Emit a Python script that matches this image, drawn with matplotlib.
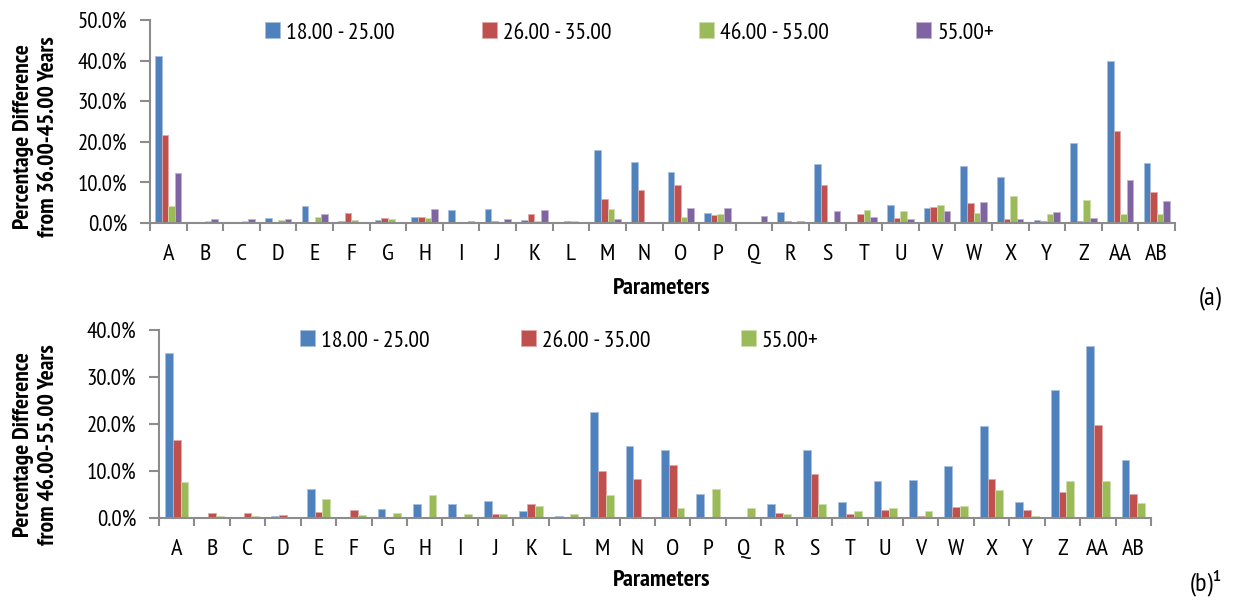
import numpy as np
import matplotlib
matplotlib.use("Agg")
import matplotlib.pyplot as plt
from matplotlib.ticker import FuncFormatter, FixedLocator

plt.rcParams['font.family'] = ['PT Sans Narrow', 'DejaVu Sans']
plt.rcParams['font.stretch'] = 'condensed'

params = ["A", "B", "C", "D", "E", "F", "G", "H", "I", "J", "K", "L", "M", "N",
          "O", "P", "Q", "R", "S", "T", "U", "V", "W", "X", "Y", "Z", "AA", "AB"]

# (a) difference from 36.00-45.00 years
a_18_25 = [41.1, 0.25, 0.25, 1.15, 4.2, 0.5, 0.7, 1.5, 3.1, 3.4, 0.7, 0.0, 17.9, 15.1,
           12.5, 2.5, 0.2, 2.6, 14.5, 0.2, 4.4, 3.6, 14.0, 11.3, 0.7, 19.6, 40.0, 14.9]
a_26_35 = [21.6, 0.25, 0.25, 0.0, 0.2, 2.5, 1.2, 1.4, 0.0, 0.5, 2.2, 0.5, 5.8, 8.1,
           9.4, 2.0, 0.0, 0.5, 9.4, 2.3, 1.3, 3.9, 4.9, 0.9, 0.6, 0.5, 22.7, 7.6]
a_46_55 = [4.3, 0.5, 0.5, 0.7, 1.5, 0.7, 1.0, 1.2, 0.2, 0.0, 0.5, 0.5, 3.4, 0.0,
           1.5, 2.2, 0.0, 0.2, 0.0, 3.1, 3.0, 4.4, 2.5, 6.6, 2.3, 5.6, 2.3, 2.3]
a_55 = [12.2, 1.0, 1.0, 1.0, 2.3, 0.0, 0.0, 3.4, 0.5, 1.0, 3.1, 0.2, 0.9, 0.0,
        3.7, 3.6, 1.8, 0.4, 3.0, 1.6, 0.9, 3.0, 5.2, 1.1, 2.7, 1.3, 10.5, 5.5]

# (b) difference from 46.00-55.00 years
b_18_25 = [35.2, 0.3, 0.3, 0.4, 6.1, 0.3, 2.0, 3.0, 3.0, 3.6, 1.5, 0.5, 22.6, 15.3,
           14.5, 5.2, 0.0, 3.0, 14.5, 3.5, 7.9, 8.1, 11.1, 19.6, 3.3, 27.2, 36.7, 12.3]
b_26_35 = [16.5, 1.1, 1.1, 0.7, 1.3, 1.7, 0.3, 0.2, 0.2, 0.9, 3.0, 0.0, 10.0, 8.3,
           11.3, 0.2, 0.3, 1.1, 9.4, 0.8, 1.8, 0.5, 2.3, 8.4, 1.6, 5.5, 19.8, 5.2]
b_55 = [7.7, 0.4, 0.4, 0.3, 4.1, 0.7, 1.1, 5.0, 0.9, 0.9, 2.6, 0.9, 4.8, 0.2,
        2.2, 6.2, 2.1, 0.9, 3.0, 1.5, 2.1, 1.4, 2.6, 6.0, 0.5, 7.8, 7.9, 3.2]

BLUE, RED, GREEN, PURPLE = "#4F81BD", "#C0504D", "#9BBB59", "#8064A2"
EDGES = {BLUE: "#A7C0DE", RED: "#E0A8A6", GREEN: "#CDDDAC", PURPLE: "#BFB1D0"}
GREY = "#8C8C8C"
W, H = 1235, 607

fig = plt.figure(figsize=(12.35, 6.07), dpi=100)
ax1 = fig.add_axes([150 / W, 1 - 223 / H, 1025 / W, 203 / H])
ax2 = fig.add_axes([159 / W, 1 - 518 / H, 992 / W, 188 / H])


def draw(ax, series, labels, colors, width, ymax, ylab, ylab_pos, leg_pos, colsp):
    x = np.arange(len(params))
    n = len(series)
    for i, (vals, lab, col) in enumerate(zip(series, labels, colors)):
        ax.bar(x + (i - (n - 1) / 2) * width, vals, width, color=col, label=lab,
               edgecolor=EDGES[col], linewidth=0.6)
    ax.set_xlim(-0.5, len(params) - 0.5)
    ax.set_ylim(0, ymax)
    ax.set_yticks(np.arange(0, ymax + 0.1, 10))
    ax.yaxis.set_major_formatter(FuncFormatter(lambda v, p: f"{v:.1f}%"))
    ax.set_xticks(x)
    ax.set_xticklabels(params, fontsize=17.5)
    ax.xaxis.set_minor_locator(FixedLocator(np.arange(-0.5, len(params), 1)))
    ax.tick_params(axis="x", which="major", length=0, pad=15)
    ax.tick_params(axis="x", which="minor", length=6, width=1.5, color=GREY)
    ax.tick_params(axis="y", length=7.5, width=1.5, color=GREY, labelsize=16.5, pad=9)
    for s in ("top", "right"):
        ax.spines[s].set_visible(False)
    for s in ("left", "bottom"):
        ax.spines[s].set_color(GREY)
        ax.spines[s].set_linewidth(1.5)
    fig.text(ylab_pos[0] / W, 1 - ylab_pos[1] / H, ylab, rotation=90, fontsize=17,
             fontweight="bold", ha="center", va="center", multialignment="center")
    ax.legend(loc="center left", bbox_to_anchor=(leg_pos[0] / W, 1 - leg_pos[1] / H),
              bbox_transform=fig.transFigure, ncol=n, frameon=False, fontsize=17,
              handlelength=0.64, handleheight=0.64, columnspacing=colsp,
              handletextpad=0.25, borderpad=0, borderaxespad=0)


draw(ax1, [a_18_25, a_26_35, a_46_55, a_55],
     ["18.00 - 25.00", "26.00 - 35.00", "46.00 - 55.00", "55.00+"],
     [BLUE, RED, GREEN, PURPLE], 0.18, 50,
     "Percentage Difference\nfrom 36.00-45.00 Years", (36, 137), (265, 33), 3.7)
draw(ax2, [b_18_25, b_26_35, b_55],
     ["18.00 - 25.00", "26.00 - 35.00", "55.00+"],
     [BLUE, RED, GREEN], 0.22, 40,
     "Percentage Difference\nfrom 46.00-55.00 Years", (36, 445), (300, 341), 3.85)

fig.text(662 / W, 1 - 288 / H, "Parameters", fontsize=17.5, fontweight="bold",
         ha="center", va="center")
fig.text(662 / W, 1 - 580 / H, "Parameters", fontsize=17.5, fontweight="bold",
         ha="center", va="center")
fig.text(1210 / W, 1 - 298 / H, "(a)", fontsize=19, ha="center", va="center")
fig.text(1206 / W, 1 - 583 / H, "(b)\u00b9", fontsize=19, ha="center", va="center")

fig.savefig("out.png", dpi=100)
